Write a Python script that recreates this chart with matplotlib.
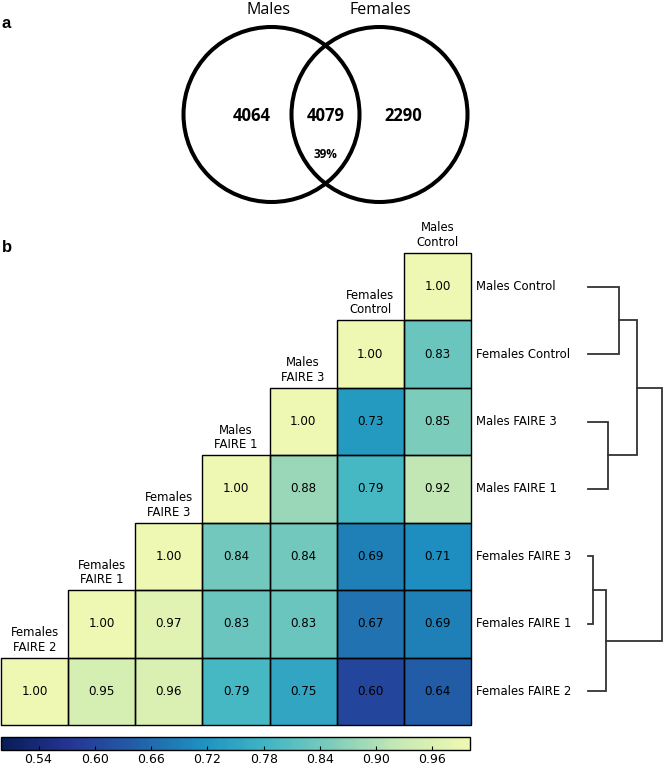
import numpy as np
import matplotlib
matplotlib.use('Agg')
import matplotlib.pyplot as plt
from matplotlib.patches import Ellipse, Rectangle
from matplotlib.colors import ListedColormap


# Данные диаграммы Венна
venn_sets = ['Males', 'Females']
venn_counts = [4064, 4079, 2290]
venn_overlap_pct = '39%'

# Данные тепловой карты (строки сверху вниз)
row_names = ['Males Control', 'Females Control', 'Males FAIRE 3', 'Males FAIRE 1',
             'Females FAIRE 3', 'Females FAIRE 1', 'Females FAIRE 2']
col_names = row_names[::-1]
corr_rows = [
    [1.00],
    [1.00, 0.83],
    [1.00, 0.73, 0.85],
    [1.00, 0.88, 0.79, 0.92],
    [1.00, 0.84, 0.84, 0.69, 0.71],
    [1.00, 0.97, 0.83, 0.83, 0.67, 0.69],
    [1.00, 0.95, 0.96, 0.79, 0.75, 0.60, 0.64],
]
cbar_ticks = [0.54, 0.60, 0.66, 0.72, 0.78, 0.84, 0.90, 0.96]

# Дендрограмма: (узел1, узел2, высота); листья 0..6 в порядке строк
merges = [(0, 1, 0.31), (2, 3, 0.20), (4, 5, 0.05),
          (7, 8, 0.49), (9, 6, 0.18), (10, 11, 0.74)]

W, H = 664, 767
fig = plt.figure(figsize=(W / 100, H / 100), dpi=100)

# Палитра: YlGnBu без самого светлого края, перевёрнутая
base = plt.get_cmap('YlGnBu')
cmap = ListedColormap(base(np.linspace(0.12, 1.0, 256))[::-1])


def px_axes(x0, y0, x1, y1):
    return fig.add_axes([x0 / W, 1 - y1 / H, (x1 - x0) / W, (y1 - y0) / H])


# ---- Панель a: Венн ----
ax_v = px_axes(0, 0, W, 230)
ax_v.set_xlim(0, W)
ax_v.set_ylim(230, 0)
ax_v.axis('off')
ax_v.add_patch(Ellipse((271.5, 114.5), 176, 175, fill=False, lw=2.9, ec='black'))
ax_v.add_patch(Ellipse((379.5, 114.5), 176, 175, fill=False, lw=2.9, ec='black'))
vfont = 'Open Sans'
ax_v.text(268, 10, venn_sets[0], ha='center', va='center', fontsize=11.5, family=vfont)
ax_v.text(380, 10, venn_sets[1], ha='center', va='center', fontsize=11.5, family=vfont)
for x, c in zip([252, 326, 403], venn_counts):
    ax_v.text(x, 116, str(c), ha='center', va='center', fontsize=12,
              fontweight='bold', family=vfont)
ax_v.text(326, 154, venn_overlap_pct, ha='center', va='center', fontsize=8.5,
          fontweight='bold', family=vfont)
ax_v.text(2, 24, 'a', ha='left', va='center', fontsize=12, fontweight='bold',
          family='Liberation Sans')
ax_v.text(2, 247, 'b', ha='left', va='center', fontsize=12, fontweight='bold',
          family='Liberation Sans', clip_on=False)

# ---- Панель b: тепловая карта ----
n = len(row_names)
mat = np.full((n, n), np.nan)
for i, vals in enumerate(corr_rows):
    mat[i, n - len(vals):] = vals
masked = np.ma.masked_invalid(mat)

ax_h = px_axes(1, 253, 471, 725)
mesh = ax_h.pcolormesh(masked, cmap=cmap, vmin=0.5, vmax=1.0, edgecolors='none')
ax_h.set_xlim(0, n)
ax_h.set_ylim(n, 0)
ax_h.axis('off')

for i in range(n):
    for j in range(n):
        if not np.isnan(mat[i, j]):
            ax_h.add_patch(Rectangle((j, i), 1, 1, fill=False, ec='black', lw=1.0,
                                     clip_on=False))
            ax_h.text(j + 0.5, i + 0.5, f'{mat[i, j]:.2f}', ha='center', va='center',
                      fontsize=8.6, color='black')
    ax_h.text(n + 0.07, i + 0.5, row_names[i], ha='left', va='center', fontsize=8.4,
              clip_on=False)

for j, name in enumerate(col_names):
    top_row = n - 1 - j
    label = name.replace(' ', '\n', 1)
    ax_h.text(j + 0.5, top_row - 0.06, label, ha='center', va='bottom', fontsize=8.4,
              linespacing=1.15, clip_on=False)

# ---- Дендрограмма ----
ax_d = px_axes(588, 253, 664, 725)
ax_d.set_xlim(0, 0.76)
ax_d.set_ylim(n, 0)
ax_d.axis('off')
pos = {i: (0.0, i + 0.5) for i in range(n)}
for k, (a, b, h) in enumerate(merges):
    xa, ya = pos[a]
    xb, yb = pos[b]
    ax_d.plot([xa, h, h, xb], [ya, ya, yb, yb], color='#333333', lw=1.3,
              solid_joinstyle='miter', clip_on=False)
    pos[n + k] = (h, (ya + yb) / 2)

# ---- Цветовая шкала ----
cax = px_axes(1, 737, 470, 750)
cb = fig.colorbar(mesh, cax=cax, orientation='horizontal', ticks=cbar_ticks)
cb.outline.set_linewidth(1.0)
cb.ax.tick_params(labelsize=9, length=3, direction='in', pad=2)
cb.ax.set_xticklabels([f'{t:.2f}' for t in cbar_ticks])

plt.savefig('out.png', dpi=100)
